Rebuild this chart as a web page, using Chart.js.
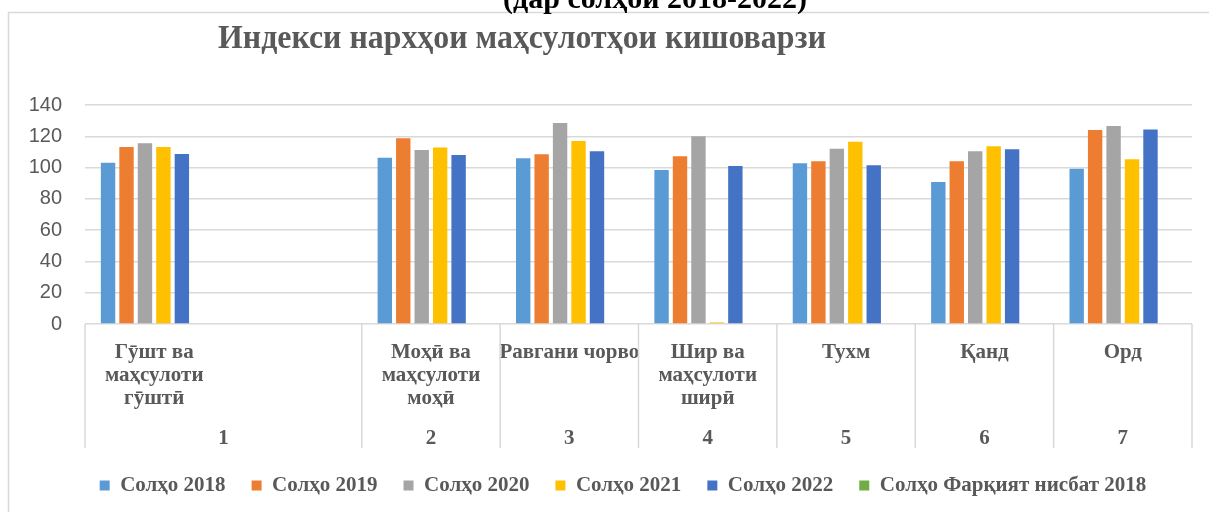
<!DOCTYPE html>
<html>
<head>
<meta charset="utf-8">
<script src="https://cdn.jsdelivr.net/npm/chart.js@4"></script>
<style>
  html, body { margin: 0; padding: 0; background: #fff; overflow: hidden; }
  #wrap { width: 1209px; height: 512px; }
</style>
</head>
<body>
<div id="wrap"><canvas id="price-chart" width="1209" height="512"></canvas></div>
<script>
// Категорияҳо (сатри болоӣ), ячейкаи дуюм холӣ аст
const categories = [
  ['Гӯшт ва', 'маҳсулоти', 'гӯштӣ'],
  '',
  ['Моҳӣ ва', 'маҳсулоти', 'моҳӣ'],
  'Равгани чорво',
  ['Шир ва', 'маҳсулоти', 'ширӣ'],
  'Тухм',
  'Қанд',
  'Орд'
];
// Сатри поёнӣ: рақамҳо ва чанд категорияро мегиранд
const groupNumbers = ['1', '2', '3', '4', '5', '6', '7'];
const groupSizes = [2, 1, 1, 1, 1, 1, 1];

const seriesNames = ['Солҳо 2018', 'Солҳо 2019', 'Солҳо 2020', 'Солҳо 2021', 'Солҳо 2022', 'Солҳо Фарқият нисбат 2018'];
const values2018 = [103.1, null, 106.3, 105.9, 98.5, 102.7, 90.8, 99.3];
const values2019 = [113.2, null, 118.7, 108.5, 107.2, 104.0, 104.0, 124.0];
const values2020 = [115.5, null, 111.2, 128.5, 120.0, 112.1, 110.4, 126.5];
const values2021 = [113.2, null, 112.9, 117.0, 1.0, 116.5, 113.6, 105.3];
const values2022 = [108.7, null, 108.0, 110.4, 101.0, 101.5, 111.7, 124.4];
const valuesDiff = [0, null, 0, 0, 0, 0, 0, 0];
const yTicks = [0, 20, 40, 60, 80, 100, 120, 140];

const colors = ['#5b9bd5', '#ed7d31', '#a5a5a5', '#ffc000', '#4472c4', '#70ad47'];
const allValues = [values2018, values2019, values2020, values2021, values2022, valuesDiff];
const textGray = '#595959';
const lineGray = '#d9d9d9';
const serif = '"Liberation Serif", "Times New Roman", serif';

// Рамка, сарлавҳа ва сатри дуюми тамғаҳо
const decorPlugin = {
  id: 'decor',
  afterLayout(chart) {
    // легенда дар чаҳорчӯбаи пурраи диаграмма марказ мегирад
    if (chart.legend) {
      chart.legend.left = 37;
      chart.legend.right = 1209;
    }
  },
  beforeDraw(chart) {
    const ctx = chart.ctx;
    ctx.save();
    ctx.strokeStyle = lineGray;
    ctx.lineWidth = 1.5;
    ctx.beginPath();
    ctx.moveTo(8.5, 512);
    ctx.lineTo(8.5, 12.5);
    ctx.lineTo(1209, 12.5);
    ctx.stroke();
    ctx.restore();
  },
  afterDraw(chart) {
    const ctx = chart.ctx;
    const x = chart.scales.x;
    const area = chart.chartArea;
    const half = (x.getPixelForValue(1) - x.getPixelForValue(0)) / 2;
    ctx.save();

    // хатҳои ҷудокунанда дар тири X
    ctx.strokeStyle = lineGray;
    ctx.lineWidth = 1.5;
    let idx = 0;
    const edges = [x.getPixelForValue(0) - half];
    groupSizes.forEach(function(n) {
      idx += n;
      edges.push(x.getPixelForValue(idx - 1) + half);
    });
    edges.forEach(function(px) {
      ctx.beginPath();
      ctx.moveTo(px, area.bottom);
      ctx.lineTo(px, 448);
      ctx.stroke();
    });

    // рақамҳои гурӯҳҳо
    ctx.fillStyle = textGray;
    ctx.font = 'bold 21px ' + serif;
    ctx.textAlign = 'center';
    ctx.textBaseline = 'alphabetic';
    idx = 0;
    groupNumbers.forEach(function(label, i) {
      const a = x.getPixelForValue(idx) - half;
      const b = x.getPixelForValue(idx + groupSizes[i] - 1) + half;
      ctx.fillText(label, (a + b) / 2, 444);
      idx += groupSizes[i];
    });

    // сарлавҳаи асосӣ
    const title = 'Индекси нархҳои маҳсулотҳои кишоварзи';
    ctx.font = 'bold 34px ' + serif;
    ctx.textAlign = 'left';
    const w = ctx.measureText(title).width;
    ctx.save();
    ctx.translate(218, 48);
    ctx.scale(608 / w, 1);
    ctx.fillText(title, 0, 0);
    ctx.restore();

    // сатри буридаи боло
    ctx.fillStyle = '#000';
    ctx.font = 'bold 30px ' + serif;
    ctx.textAlign = 'center';
    ctx.fillText('(дар солҳои 2018-2022)', 655, 8);
    ctx.restore();
  }
};

const ctx = document.getElementById('price-chart');
new Chart(ctx, {
  type: 'bar',
  data: {
    labels: categories,
    datasets: seriesNames.map(function(name, i) {
      return {
        label: name,
        data: allValues[i],
        backgroundColor: colors[i],
        borderWidth: 0,
        categoryPercentage: 0.8,
        barPercentage: 0.78,
        yAxisID: 'y'
      };
    })
  },
  options: {
    responsive: false,
    animation: false,
    layout: { padding: { top: 105, left: 0, right: 0, bottom: 6 } },
    plugins: {
      title: { display: false },
      tooltip: { enabled: false },
      legend: {
        position: 'bottom',
        labels: {
          boxWidth: 10,
          boxHeight: 10,
          padding: 26,
          color: textGray,
          font: { family: serif, size: 21, weight: 'bold' }
        }
      }
    },
    scales: {
      x: {
        grid: { display: false },
        border: { display: false },
        ticks: {
          autoSkip: false,
          maxRotation: 0,
          minRotation: 0,
          padding: 9,
          color: textGray,
          font: { family: serif, size: 21, weight: 'bold', lineHeight: 1.1 }
        },
        afterFit: function(scale) { scale.height = 125; }
      },
      y: {
        min: 0,
        max: 140,
        afterBuildTicks: function(scale) {
          scale.ticks = yTicks.map(function(v) { return { value: v }; });
        },
        grid: { color: lineGray, lineWidth: 1.5, drawTicks: false },
        border: { display: false },
        ticks: {
          padding: 23,
          color: textGray,
          font: { family: '"Liberation Sans", Arial, sans-serif', size: 20 }
        },
        afterFit: function(scale) { scale.width = 85; }
      },
      pad: {
        position: 'right',
        display: true,
        grid: { display: false },
        border: { display: false },
        ticks: { display: false },
        afterFit: function(scale) { scale.width = 17; }
      }
    }
  },
  plugins: [decorPlugin]
});
</script>
</body>
</html>
